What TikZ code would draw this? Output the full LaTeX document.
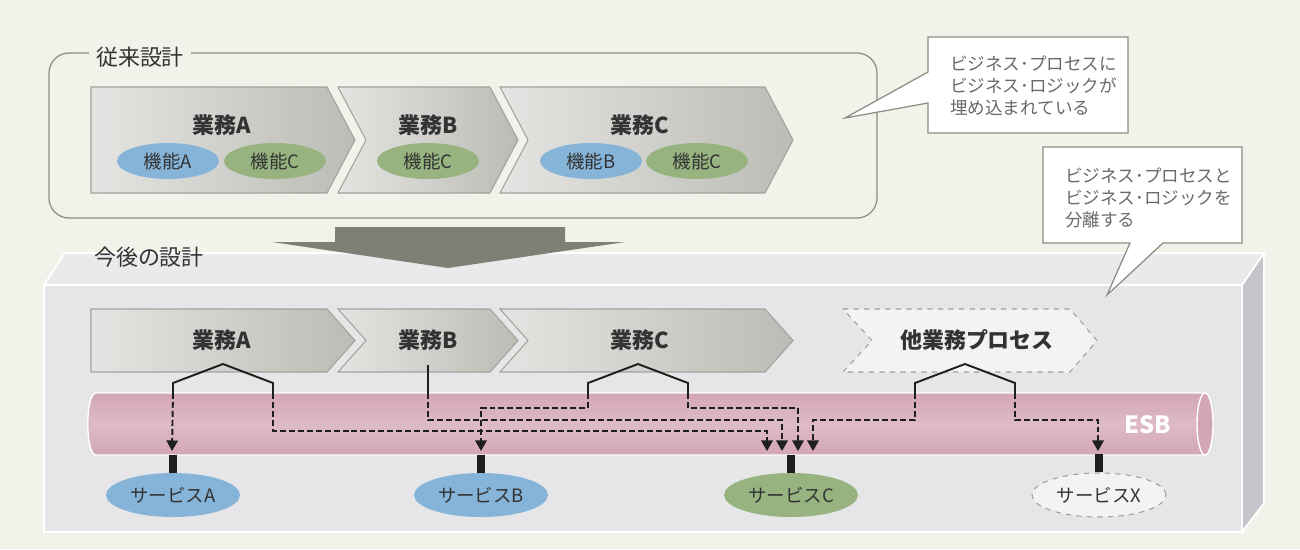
\documentclass[tikz,border=0pt]{standalone}
\usepackage{fontspec}
\setmainfont{Noto Sans CJK JP}
\usetikzlibrary{shapes.geometric, arrows.meta}
\definecolor{bgcream}{HTML}{F2F1EA}
\definecolor{frameline}{HTML}{8C8C82}
\definecolor{chevL}{HTML}{E4E4E2}
\definecolor{chevR}{HTML}{BCBCB6}
\definecolor{chevline}{HTML}{A3A39C}
\definecolor{fnBlue}{HTML}{86B4D8}
\definecolor{fnGreen}{HTML}{97B480}
\definecolor{bigarrow}{HTML}{7F7F76}
\definecolor{boxFront}{HTML}{E6E6E8}
\definecolor{boxTop}{HTML}{EAEAEC}
\definecolor{boxSide}{HTML}{C4C5CA}
\definecolor{tubeEdge}{HTML}{D3A5B5}
\definecolor{tubeMid}{HTML}{DEBBC7}
\definecolor{otherFill}{HTML}{F3F3F5}
\definecolor{inkGray}{HTML}{333333}
\definecolor{noteGray}{HTML}{6A6A6A}
\begin{document}
\begin{tikzpicture}
        [x=0.02cm, y=-0.02cm, >={Triangle[width=6.5pt, length=6pt]},
         chev/.style={draw=chevline, line width=0.6pt, left color=chevL, right color=chevR},
         otherchev/.style={draw=gray!75, dashed, line width=0.6pt, fill=otherFill},
         task/.style={font=\fontsize{12.5}{15}\selectfont\bfseries, text=inkGray},
         func/.style={ellipse, minimum width=2.04cm, minimum height=0.72cm, inner sep=0pt, font=\fontsize{10.5}{12}\selectfont, text=inkGray},
         svc/.style={ellipse, minimum width=2.68cm, minimum height=0.88cm, inner sep=0pt, font=\fontsize{10.5}{12}\selectfont, text=inkGray},
         note/.style={draw=frameline, line width=0.7pt, fill=white},
         notetext/.style={align=left, anchor=west, font=\fontsize{10}{12.6}\selectfont, text=noteGray},
         sline/.style={line width=1.1pt, draw=black!88},
         dline/.style={line width=1.1pt, draw=black!88, dash pattern=on 3.4pt off 1.7pt, ->},
         stem/.style={line width=4.5pt, draw=black!88}]

        \useasboundingbox (0,0) rectangle (1300,549);
        \fill[bgcream] (0,0) rectangle (1300,549);

        \draw[frameline, line width=0.7pt, rounded corners=0.4cm] (49,53) rectangle (877,218);
        \node[fill=bgcream, inner xsep=4pt, font=\fontsize{12.5}{15}\selectfont, text=inkGray] (old-title) at (140,57) {従来設計};

        \foreach \xa/\xb/\nt in {91/355/0, 338/518/28, 500/793/28}
        \draw[chev] (\xa,87) -- (\xb-28,87) -- (\xb,140) -- (\xb-28,193) -- (\xa,193) -- (\xa+\nt,140) -- cycle;

        \foreach \t/\x in {A/222, B/428, C/640}
        \node[task] (old-\t) at (\x,125) {業務\t};

        \foreach \t/\x/\c[count=\i] in {機能A/168/fnBlue, 機能C/275/fnGreen, 機能C/428/fnGreen, 機能B/591/fnBlue, 機能C/697/fnGreen}
        \node[func, fill=\c] (fn-\i) at (\x,161) {\t};

        \draw[note] (928,37) -- (1128,37) -- (1128,133) -- (928,133) -- (928,103) -- (845,118) -- (928,72) -- cycle;
        \node[notetext] (note-old) at (944,86) {ビジネス･プロセスに\\ビジネス･ロジックが\\埋め込まれている};

        \fill[boxFront] (44,285) rectangle (1242,532);
        \fill[boxTop] (44,285) -- (65,253) -- (1264,253) -- (1242,285) -- cycle;
        \fill[boxSide] (1242,285) -- (1264,253) -- (1264,503) -- (1242,532) -- cycle;
        \draw[white, line width=1pt] (44,532) -- (44,285) -- (1242,285) -- (1242,532) -- cycle
                (44,285) -- (65,253) -- (1264,253) -- (1264,503) -- (1242,532)
                (1242,285) -- (1264,253);
        \node[font=\fontsize{12.5}{15}\selectfont, text=inkGray] (new-title) at (149,257) {今後の設計};

        \fill[bigarrow] (335,227) -- (565,227) -- (565,242) -- (625,242) -- (448,268) -- (272,242) -- (335,242) -- cycle;

        \draw[note] (1043,147) -- (1242,147) -- (1242,243) -- (1163,243) -- (1107,295) -- (1130,243) -- (1043,243) -- cycle;
        \node[notetext] (note-new) at (1059,198) {ビジネス･プロセスと\\ビジネス･ロジックを\\分離する};

        \foreach \xa/\xb/\nt in {91/355/0, 338/518/28, 500/793/28}
        \draw[chev] (\xa,309) -- (\xb-28,309) -- (\xb,340.5) -- (\xb-28,372) -- (\xa,372) -- (\xa+\nt,340.5) -- cycle;
        \draw[otherchev] (843,309) -- (1070,309) -- (1097,340.5) -- (1070,372) -- (843,372) -- (872,340.5) -- cycle;

        \foreach \t/\x in {A/222, B/428, C/640}
        \node[task] (new-\t) at (\x,340) {業務\t};
        \node[task] (new-O) at (977,340) {他業務プロセス};

        \shade[top color=tubeEdge, bottom color=tubeEdge, middle color=tubeMid, draw=white, line width=0.8pt]
                (1205,393) -- (96,393) .. controls (85,393) and (85,455) .. (96,455) -- (1205,455) -- cycle;
        \draw[white, line width=0.8pt, fill=tubeEdge] (1205,424) ellipse [x radius=8, y radius=31];
        \node[font=\fontsize{13.5}{16}\selectfont\bfseries, text=white] (esb) at (1148,425) {ESB};

        \foreach \n/\x/\c in {A/173/fnBlue, B/481/fnBlue, C/791/fnGreen}
        \node[svc, fill=\c] (sv-\n) at (\x,495) {サービス\n};
        \node[svc, draw=gray!75, dashed, line width=0.6pt, fill=otherFill] (sv-X) at (1099,495) {サービスX};

        \foreach \n in {A, B, C, X}
        \draw[stem] (sv-\n.north) -- ++(0,-18);

        \foreach \n/\x in {A/172, B/481, C1/767, C2/782, C3/798, C4/813, X/1098}
        \coordinate (in-\n) at (\x,451);

        \foreach \n/\x in {A/223, C/638, O/965}
        {
        \coordinate (jl-\n) at (\x-50,393);
        \coordinate (jr-\n) at (\x+50,393);
        \draw[sline] (jl-\n) -- ++(0,-10) -- (\x,364) -- (\x+50,383) -- (jr-\n);
        }
        \coordinate (jb-B) at (428,393);
        \draw[sline] (new-B.south |- 0,365) -- (jb-B);

        \draw[dline] (jl-A) -- (in-A);
        \draw[dline] (jr-A) -- ++(0,38) -| (in-C1);
        \draw[dline] (jb-B) -- ++(0,27) -| (in-C2);
        \draw[dline] (jl-C) -- ++(0,15) -| (in-B);
        \draw[dline] (jr-C) -- ++(0,15) -| (in-C3);
        \draw[dline] (jl-O) -- ++(0,27) -| (in-C4);
        \draw[dline] (jr-O) -- ++(0,27) -| (in-X);
    \end{tikzpicture}
\end{document}
